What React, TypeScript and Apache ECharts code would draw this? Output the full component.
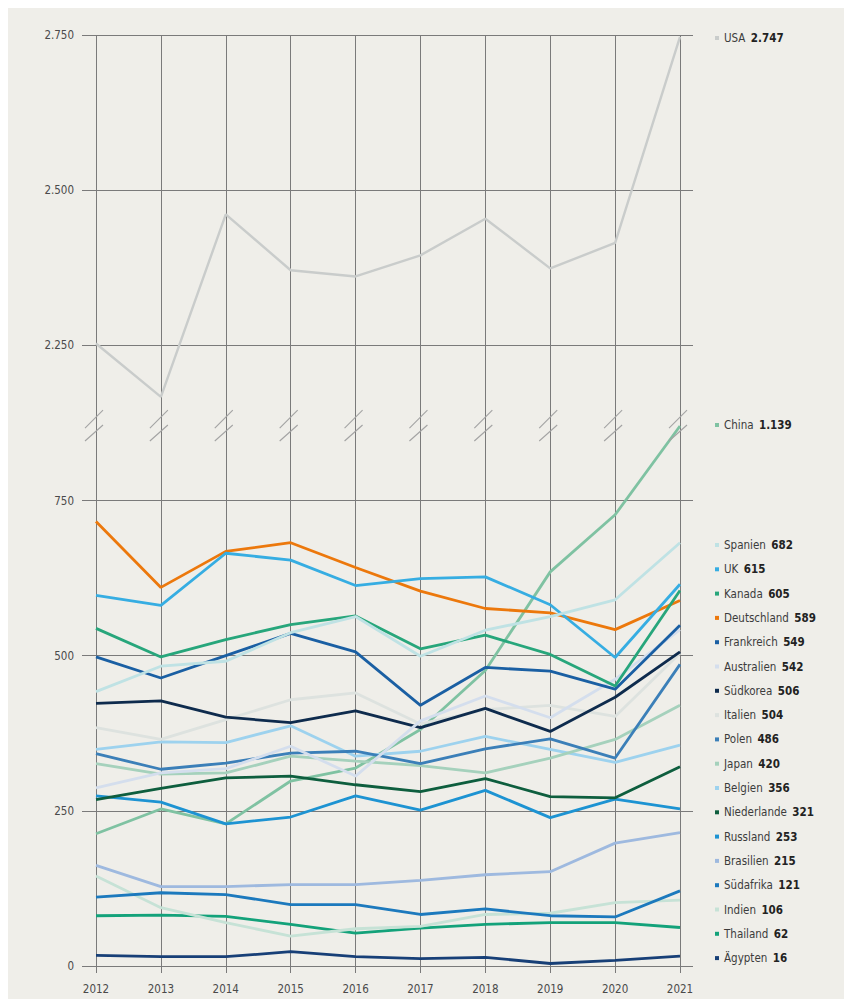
import React, { useEffect, useRef } from 'react';
import * as echarts from 'echarts';

// ---------- data ----------
const years = ['2012', '2013', '2014', '2015', '2016', '2017', '2018', '2019', '2020', '2021'];

const usa = [2253, 2167, 2461, 2371, 2361, 2395, 2454, 2374, 2415, 2747];
const china = [213, 253, 229, 298, 319, 381, 476, 635, 727, 1139];
const spanien = [442, 483, 491, 537, 563, 499, 541, 563, 590, 682];
const uk = [597, 581, 665, 654, 613, 624, 627, 582, 497, 615];
const kanada = [544, 498, 526, 550, 564, 511, 533, 502, 451, 605];
const deutschland = [716, 610, 668, 682, 642, 604, 576, 569, 542, 589];
const frankreich = [498, 464, 500, 536, 506, 420, 481, 475, 446, 549];
const australien = [287, 311, 318, 354, 306, 395, 435, 400, 462, 542];
const suedkorea = [423, 427, 401, 392, 411, 384, 415, 378, 433, 506];
const italien = [384, 365, 397, 429, 440, 390, 413, 420, 402, 504];
const polen = [342, 317, 327, 343, 346, 326, 350, 366, 335, 486];
const japan = [326, 309, 311, 338, 330, 323, 311, 335, 365, 420];
const belgien = [349, 361, 360, 387, 338, 346, 370, 349, 328, 356];
const niederlande = [268, 286, 303, 306, 292, 281, 302, 273, 271, 321];
const russland = [274, 264, 229, 240, 274, 251, 283, 239, 269, 253];
const brasilien = [162, 128, 128, 131, 131, 138, 147, 152, 198, 215];
const suedafrika = [111, 118, 115, 99, 99, 83, 92, 81, 79, 121];
const indien = [145, 94, 70, 48, 60, 64, 83, 85, 102, 106];
const thailand = [81, 82, 80, 67, 53, 61, 67, 70, 70, 62];
const aegypten = [17, 15, 15, 23, 15, 12, 14, 4, 9, 16];

// axis: lower part 0..750 true scale; upper part (2.250..2.750) shifted down by this offset
const UPPER_OFFSET = 1250;
const BREAK_VALUE = 870; // where the axis is broken (values beyond are drawn at the break)
const yTicks = [0, 250, 500, 750, 1000, 1250, 1500];

const countries = [
  { name: 'USA', values: usa, color: '#c9cccb', group: 'top' },
  { name: 'China', values: china, color: '#7fc2a2', group: 'mid' },
  { name: 'Spanien', values: spanien, color: '#bfe2e4', group: 'list' },
  { name: 'UK', values: uk, color: '#36ade2', group: 'list' },
  { name: 'Kanada', values: kanada, color: '#27a67b', group: 'list' },
  { name: 'Deutschland', values: deutschland, color: '#ec780c', group: 'list' },
  { name: 'Frankreich', values: frankreich, color: '#1a5fa3', group: 'list' },
  { name: 'Australien', values: australien, color: '#d4deed', group: 'list' },
  { name: 'Südkorea', values: suedkorea, color: '#0e2b4d', group: 'list' },
  { name: 'Italien', values: italien, color: '#dde2df', group: 'list' },
  { name: 'Polen', values: polen, color: '#3b7fb8', group: 'list' },
  { name: 'Japan', values: japan, color: '#a5d1bc', group: 'list' },
  { name: 'Belgien', values: belgien, color: '#9dd2ee', group: 'list' },
  { name: 'Niederlande', values: niederlande, color: '#0e5e3e', group: 'list' },
  { name: 'Russland', values: russland, color: '#1d93d2', group: 'list' },
  { name: 'Brasilien', values: brasilien, color: '#9eb9df', group: 'list' },
  { name: 'Südafrika', values: suedafrika, color: '#1c79bd', group: 'list' },
  { name: 'Indien', values: indien, color: '#c6e2d6', group: 'list' },
  { name: 'Thailand', values: thailand, color: '#13a27a', group: 'list' },
  { name: 'Ägypten', values: aegypten, color: '#173f77', group: 'list' },
];

const FONT = "'DejaVu Sans Condensed', 'Liberation Sans Narrow', 'Roboto', sans-serif";
const GRID = '#7a7a7a';

const fmt = (n: number) => String(Math.round(n)).replace(/\B(?=(\d{3})+(?!\d))/g, '.');
const toPlot = (v: number) => (v >= 2000 ? v - UPPER_OFFSET : Math.min(v, BREAK_VALUE));
const lastValue = (name: string) => {
  const c = countries.find((d) => d.name === name);
  return c ? c.values[c.values.length - 1] : 0;
};

const legendText = {
  fontFamily: FONT,
  lineHeight: 16,
  rich: {
    n: { fontFamily: FONT, fontSize: 11.5, color: '#3c3c3c', lineHeight: 16 },
    v: { fontFamily: FONT, fontSize: 11.5, color: '#222', fontWeight: 'bold' as const, lineHeight: 16, padding: [0, 0, 0, 2] },
  },
};

const makeLegend = (names: string[], top: number, gap: number) => ({
  show: true,
  orient: 'vertical' as const,
  left: 707,
  top,
  itemWidth: 4,
  itemHeight: 4,
  itemGap: gap,
  padding: 0,
  selectedMode: false,
  icon: 'rect',
  data: names,
  formatter: (name: string) => `{n|${name}} {v|${fmt(lastValue(name))}}`,
  textStyle: legendText,
});

export default function App() {
  const ref = useRef<HTMLDivElement>(null);

  useEffect(() => {
    if (!ref.current) return;
    const chart = echarts.init(ref.current, null, { renderer: 'svg' });

    const drawOrder = [countries[0], countries[1], ...countries.slice(2).reverse()];

    const lineSeries = drawOrder.map((c) => ({
      name: c.name,
      type: 'line' as const,
      data: c.values.map(toPlot),
      symbol: 'none',
      showSymbol: false,
      color: c.color,
      lineStyle: { color: c.color, width: c.name === 'USA' ? 2.4 : 2.8 },
      itemStyle: { color: c.color },
      z: 3,
      silent: true,
    }));

    const breakSeries = {
      type: 'custom' as const,
      silent: true,
      z: 4,
      data: years.map((_, i) => [i, BREAK_VALUE]),
      renderItem: (_params: any, api: any) => {
        const p = api.coord([api.value(0), api.value(1)]);
        const x = p[0];
        const y = p[1];
        const style = { stroke: '#a3a3a3', lineWidth: 1.1 };
        return {
          type: 'group',
          children: [
            { type: 'line', shape: { x1: x - 11, y1: y + 2, x2: x + 7, y2: y - 16 }, style },
            { type: 'line', shape: { x1: x - 11, y1: y + 15, x2: x + 7, y2: y - 1 }, style },
          ],
        };
      },
    };

    chart.setOption({
      animation: false,
      backgroundColor: '#efeee9',
      textStyle: { fontFamily: FONT },
      grid: { left: 88, right: 172, top: 27, bottom: 33, containLabel: false },
      legend: [
        makeLegend(['USA'], 22, 8),
        makeLegend(['China'], 409, 8),
        makeLegend(countries.filter((c) => c.group === 'list').map((c) => c.name), 529, 8.3),
      ],
      xAxis: {
        type: 'category',
        data: years,
        boundaryGap: false,
        axisLine: { show: false },
        axisTick: { show: true, length: 7, interval: 0, lineStyle: { color: GRID, width: 1 } },
        axisLabel: { color: '#4a4a4a', fontSize: 11.5, fontFamily: FONT, margin: 17, interval: 0 },
        splitLine: { show: true, interval: 0, lineStyle: { color: GRID, width: 1 } },
      },
      yAxis: [
        {
          type: 'value',
          min: 0,
          max: 1500,
          interval: 250,
          position: 'left',
          axisLine: { show: false },
          axisTick: { show: true, length: 14, lineStyle: { color: GRID, width: 1 } },
          axisLabel: {
            color: '#4a4a4a',
            fontSize: 11.5,
            fontFamily: FONT,
            margin: 22,
            customValues: yTicks,
            formatter: (v: number) => (v >= 1000 ? fmt(v + UPPER_OFFSET) : fmt(v)),
          },
          splitLine: { show: true, lineStyle: { color: GRID, width: 1 } },
        },
        {
          type: 'value',
          min: 0,
          max: 1500,
          interval: 250,
          position: 'right',
          axisLine: { show: false },
          axisTick: { show: true, length: 13, lineStyle: { color: GRID, width: 1 } },
          axisLabel: { show: false },
          splitLine: { show: false },
        },
      ],
      series: [...lineSeries, breakSeries],
    });

    return () => chart.dispose();
  }, []);

  return <div ref={ref} style={{ width: 844, height: 991 }} />;
}
